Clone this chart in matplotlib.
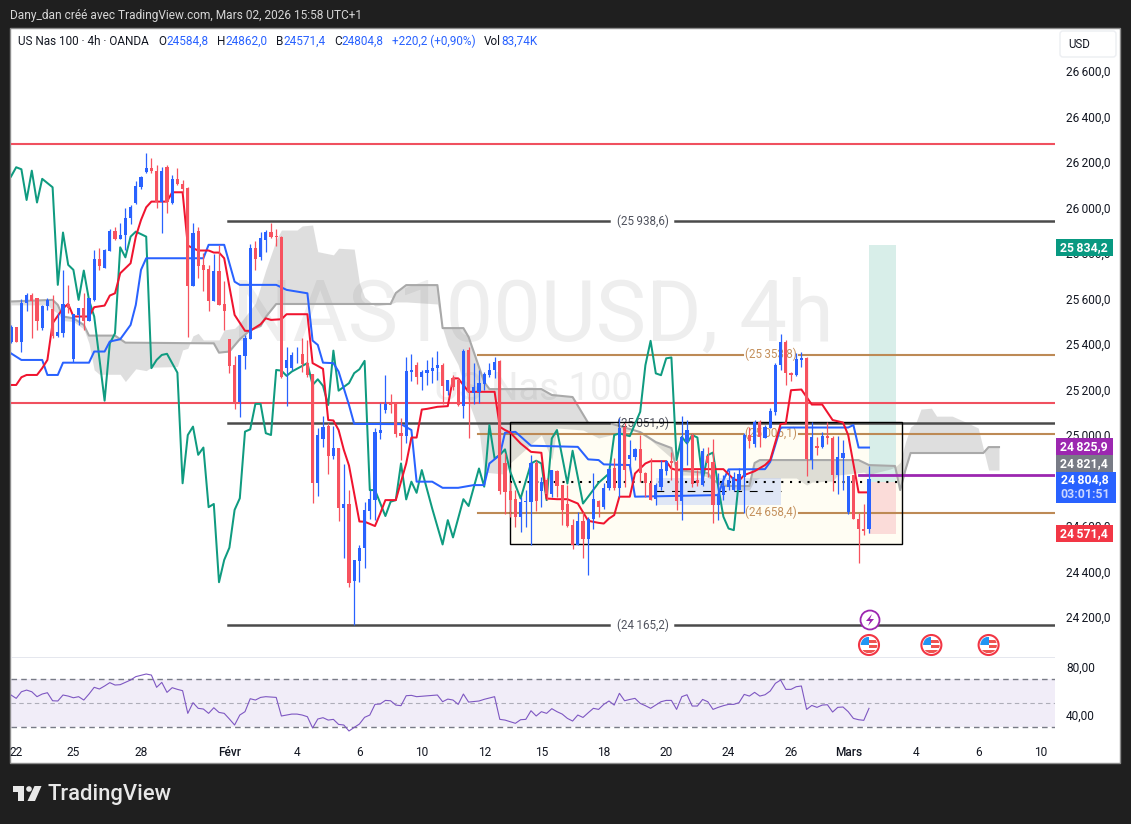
import numpy as np
import matplotlib
matplotlib.use("Agg")
import matplotlib.pyplot as plt
from matplotlib.patches import Circle, FancyBboxPatch, Polygon, Rectangle

plt.rcParams['font.family'] = ['Roboto', 'DejaVu Sans']

# candles, one per 4h bar
opens = [25411,25477,25411,25579,25616,25601,25469,25565,25553,25436,
         25447,25576,25333,25528,25557,25499,25594,25773,25733,25811,
         25897,25862,25877,25953,26022,26092,26155,26174,26162,26026,
         26177,26019,26124,26102,26086,25657,25896,25748,25730,25589,
         25721,25576,25421,25308,25146,25348,25421,25824,25781,25857,
         25893,25875,25869,25294,25294,25354,25357,25316,25269,24788,
         24981,25040,24910,24942,24681,24696,24360,24447,24502,24667,
         24714,25010,25110,25142,25139,25007,24995,25278,25307,25253,
         25274,25282,25296,25310,25195,25250,25241,25127,25373,25183,
         25190,25224,25262,25285,25325,24875,24754,24717,24641,24705,
         24707,24875,24755,24802,24743,24843,24780,24696,24604,24516,
         24623,24544,24629,24710,24682,24765,24856,24765,25036,24894,
         24904,24937,24834,24790,24717,24773,24843,24887,24882,24711,
         24970,25000,24802,24780,24907,24882,24692,24736,24773,24758,
         24758,24816,25000,24960,25058,24989,25029,25102,25307,25410,
         25274,25263,25331,25337,24890,24951,24948,24995,24989,24824,
         24901,24663,24824,24633,24585,24584.8]
highs = [25484,25477,25598,25623,25623,25601,25572,25601,25616,25538,
         25726,25660,25532,25557,25623,25604,25814,25821,25817,25904,
         25916,25931,25997,26011,26118,26140,26238,26216,26187,26180,
         26187,26143,26172,26121,26089,25934,25913,25799,25748,25796,
         25836,25676,25421,25348,25352,25440,25840,25853,25894,25901,
         25931,25904,25875,25389,25367,25389,25425,25418,25269,25030,
         25084,25052,25040,24942,24873,24759,24451,24516,24707,24758,
         25029,25139,25263,25180,25142,25077,25341,25354,25322,25285,
         25329,25344,25369,25315,25244,25263,25249,25376,25388,25315,
         25285,25278,25315,25344,25329,24919,24795,24758,24729,24758,
         24912,24890,24817,24809,24846,24846,24780,24780,24633,24663,
         24663,24641,24831,24714,24787,24853,24897,25073,25051,24978,
         24941,25000,24838,24897,24787,24890,24890,24926,24890,25083,
         25066,25007,24846,24941,24948,24981,24831,24824,24846,24838,
         24853,25007,25036,25065,25065,25044,25117,25315,25446,25417,
         25278,25359,25366,25341,25058,24992,25014,25058,24995,24995,
         24978,24819,24824,24658,24696,24862]
lows = [25403,25408,25367,25543,25425,25462,25462,25550,25425,25433,
        25433,25535,25323,25484,25462,25499,25587,25726,25733,25811,
        25857,25862,25814,25928,26016,26083,26151,26151,25997,25890,
        25978,26016,26099,26063,25433,25657,25689,25635,25546,25589,
        25572,25462,25272,25113,25081,25289,25421,25726,25770,25806,
        25865,25831,25250,25128,25286,25316,25279,25257,24700,24734,
        24949,24829,24895,24624,24461,24330,24165,24355,24414,24633,
        24626,24981,25095,25095,24992,24890,24963,25237,25224,25200,
        25219,25230,25241,25136,25175,25197,25127,25077,24988,25136,
        25139,25200,25253,25249,24743,24655,24641,24597,24575,24597,
        24516,24667,24685,24714,24729,24729,24604,24597,24497,24516,
        24458,24384,24589,24641,24677,24758,24758,24729,24773,24846,
        24890,24795,24729,24714,24692,24758,24824,24802,24670,24626,
        24868,24773,24777,24777,24816,24614,24626,24714,24758,24755,
        24758,24658,24941,24948,24948,24985,25029,25087,25288,25219,
        25238,25259,25300,24821,24850,24912,24945,24960,24755,24743,
        24758,24655,24630,24438,24560,24571.4]
closes = [25477,25411,25579,25616,25589,25499,25567,25594,25436,25455,
          25576,25557,25532,25557,25499,25604,25773,25743,25814,25897,
          25862,25877,25953,26004,26095,26136,26174,26162,26026,26159,
          26026,26124,26102,26080,25657,25887,25745,25726,25589,25721,
          25573,25543,25305,25143,25352,25425,25821,25774,25868,25893,
          25869,25872,25254,25330,25352,25357,25313,25264,24788,25000,
          25037,24910,24942,24681,24696,24349,24451,24502,24670,24717,
          25014,25022,25136,25133,25003,24995,25281,25285,25253,25278,
          25288,25296,25310,25215,25241,25212,25130,25370,25190,25212,
          25227,25268,25285,25322,24755,24751,24714,24641,24707,24710,
          24875,24711,24795,24740,24846,24778,24670,24600,24516,24623,
          24544,24633,24717,24685,24765,24849,24765,25029,24846,24912,
          24937,24831,24787,24714,24780,24850,24887,24875,24711,24992,
          25022,24784,24787,24929,24875,24692,24743,24775,24802,24816,
          24828,25000,24975,25058,24992,25036,25106,25307,25410,25271,
          25263,25332,25338,24893,24992,24945,24995,24985,24824,24904,
          24919,24819,24633,24586,24579,24804.8]

# ichimoku lines, bar index then price at the corners of each line
tenkan_x = [0,1,2,3,5,6,7,8,10,11,12,15,16,18,19,20,21,23,24,25,26,27,30,31,33,34,35,36,38,39,40,41,42,43,45,46,48,49,50,52,53,57,58,60,61,62,63,64,65,67,
            68,70,71,72,74,76,77,78,79,80,82,84,85,86,88,93,94,95,96,98,100,102,103,105,107,109,111,113,114,115,116,117,119,120,122,123,126,127,128,
            129,137,139,140,141,143,145,146,148,149,150,152,154,156,158,160,161,163,165]
tenkan_y = [25220,25220,25254,25264,25264,25294,25330,25491,25557,25576,25521,25521,25562,25569,25613,25623,25711,25755,25872,25945,26001,26026,26026,26067,26067,25833,25821,25811,25811,25802,25802,25777,25652,25528,25458,25458,25487,25513,25506,25509,25531,25531,25316,25291,25066,25064,25022,24935,24866,24620,
            24619,24600,24655,24714,24714,24875,24989,24989,25112,25115,25124,25127,25249,25249,25190,25190,25036,25022,25011,24963,24926,24922,24721,24718,24718,24699,24623,24614,24611,24633,24648,24729,24729,24831,24875,24885,24885,24853,24846,
            24850,24850,24805,24799,24824,24841,24868,24890,25048,25051,25197,25200,25134,25134,25066,25055,25000,24748,24748]
kijun_x = [0,2,6,7,9,10,15,16,18,19,21,23,24,25,26,37,38,41,43,44,51,53,57,58,59,60,62,63,65,66,
           75,77,78,81,83,86,89,91,92,94,95,97,100,109,111,113,114,119,120,
           136,137,138,145,146,148,161,162,163,165]
kijun_y = [25359,25330,25330,25264,25264,25318,25318,25367,25367,25411,25421,25484,25572,25726,25777,25777,25836,25836,25674,25660,25660,25638,25623,25415,25396,25318,25316,25279,25132,25049,
           25048,25022,24795,24795,24768,24768,24780,24780,24875,24912,25010,25014,24953,24948,24893,24890,24871,24868,24729,
           24736,24802,24849,24850,24882,25033,25033,25044,24945,24945]
chikou_x = [0,1,2,3,4,5,6,8,9,10,11,12,13,14,15,16,18,19,20,21,22,23,24,26,27,28,29,30,32,
            33,34,35,36,37,38,39,40,41,42,43,44,45,46,47,48,49,50,51,52,53,54,57,58,59,60,61,62,63,65,66,67,68,
            69,70,72,73,74,75,76,77,78,79,81,83,84,85,87,88,90,91,92,93,94,95,96,98,100,101,102,103,104,105,107,108,110,111,113,115,116,117,119,121,122,123,124,125,126,127,128,
            129,130,131,132,133,134,135,136,137,138,139,140]
chikou_y = [26136,26177,26168,26033,26162,26022,26126,26089,25660,25890,25748,25726,25594,25723,25594,25521,25151,25403,25447,25825,25781,25872,25894,25872,25294,25330,25352,25357,25274,
            24788,25000,25037,24913,24945,24683,24697,24353,24451,24505,24671,24722,25015,25025,25137,25137,25008,25000,25286,25283,25260,25279,25316,25220,25245,25216,25132,25371,25195,25228,25272,25289,25326,
            24758,24758,24644,24707,24714,24875,24717,24795,24746,24846,24677,24519,24626,24550,24718,24688,24853,24773,25044,24897,24912,24937,24839,24721,24875,24887,24875,24714,24985,25022,24787,24931,24699,24729,24790,24831,25000,25007,24995,25102,25307,25414,25271,25263,25337,25341,24890,
            24992,24963,25000,24989,24802,24912,24923,24773,24641,24589,24582,24805]

# cloud edges
span_a_x = [0,7,8,9,10,12,14,15,16,17,21,22,24,26,27,32,33,34,35,36,37,40,41,43,44,47,48,49,51,52,55,56,58,59,62,63,66,67,68,70,73,74,76,82,83,84,86,88,90,91,95,96,102,104,105,110,113,117,120,123,127,129,133,135,137,140,142,143,144,151,153,154,158,159,164,165,166,169,170,171,172,173,174,175,177,178,181,184,186,188,190]
span_a_y = [25572,25572,25550,25535,25503,25499,25466,25403,25286,25267,25267,25235,25291,25283,25298,25301,25374,25381,25436,25447,25418,25418,25462,25469,25491,25579,25652,25726,25857,25901,25901,25919,25923,25806,25792,25821,25817,25668,25606,25567,25576,25585,25585,25576,25470,25395,25308,25145,25022,24837,24828,24877,25000,24890,25031,25022,24987,25009,25022,24978,24899,24824,24824,24802,24793,24758,24758,24802,24811,24811,24780,24793,24798,24824,24837,24824,24833,24850,24859,24880,24969,25035,25053,25114,25118,25083,25083,25053,25031,24846,24846]
span_b_x = [0,8,9,10,12,14,15,20,22,39,40,42,44,46,48,49,51,73,74,76,82,83,87,88,91,92,102,104,108,111,115,121,124,127,128,132,134,135,137,142,143,144,163,165,170,171,172,173,187,188,190]
span_b_y = [25587,25594,25572,25521,25513,25484,25437,25437,25406,25403,25362,25367,25421,25461,25479,25519,25576,25576,25624,25659,25659,25470,25470,25431,25233,25202,25202,25176,25167,25053,25053,25013,24969,24943,24846,24837,24833,24802,24776,24776,24877,24890,24890,24868,24864,24758,24846,24921,24921,24947,24947]

# rsi
rsi_x = list(range(0,79)) + [82,83,84,85,86,87,88,90,91,93,94,95,97,98,99,100,101,102,103,104,105] + list(range(106,166))
rsi_y = [56.7,53.9,59.4,60.8,59.4,55.3,57.5,58.6,51.9,51.7,56.7,55.8,54.4,55.3,52.5,57.5,63.1,61.7,64.2,67.0,
         65.0,65.3,67.2,69.2,72.0,73.1,74.2,73.3,63.1,67.2,58.9,62.8,61.4,60.3,41.4,50.3,45.6,45.0,41.4,46.1,
         42.2,41.4,36.7,31.7,40.0,42.8,53.6,52.5,54.7,55.3,55.0,54.7,39.2,40.0,40.8,40.8,40.0,38.6,29.2,36.7,
         37.8,35.8,36.4,32.2,31.7,26.7,29.7,32.5,38.1,40.0,48.9,49.2,52.2,51.9,48.3,47.8,56.1,56.4,55.3,
         56.7,51.1,53.3,52.5,48.9,57.5,50.8,51.7,53.1,55.3,36.4,35.8,33.1,36.1,36.4,43.6,39.2,42.8,41.4,45.3,42.8,
         40.8,37.2,35.0,40.0,38.0,41.9,45.6,44.7,48.9,51.7,48.3,58.1,51.9,53.0,53.9,49.7,47.8,45.6,48.3,51.1,
         52.2,52.2,44.7,55.3,56.9,47.5,47.5,53.0,51.1,44.7,46.4,47.8,48.9,48.9,50.3,57.2,55.8,58.9,55.8,56.9,
         60.0,66.4,69.2,61.4,61.4,63.6,64.2,44.7,48.0,46.4,48.3,48.6,42.5,46.4,46.7,42.8,37.2,36.1,35.6,45.6]

# levels
red_levels = [26279, 25140]
black_levels = [25938.6, 25051.9, 24165.2]
brown_levels = [25353.8, 25006.1, 24658.4]
purple_level = 24825.9
# 24 800,0 sits fully under the last-price tags, so it is left out
price_ticks = [26600,26400,26200,26000,25800,25600,25400,25200,25000,24600,24400,24200]
rsi_ticks = [80, 40]
date_bars = [1,12,25,42,55,67,79,91,102,114,126,138,150,161,174,186,198]
date_labels = ['22','25','28','Févr','4','6','10','12','15','18','20','24','26','Mars','4','6','10']
event_bars = [165, 177, 188]

BG = '#1f1f1f'
UP = '#2962ff'
DOWN = '#f7525f'
W, H = 1131, 824


def num(v, dec=1):
    return f"{v:,.{dec}f}".replace(",", "\u2009").replace(".", ",")


def axrect(x0, y0, x1, y1):
    return [x0 / W, 1 - y1 / H, (x1 - x0) / W, (y1 - y0) / H]


fig = plt.figure(figsize=(W / 100, H / 100), dpi=100, facecolor=BG)

# white panel behind everything
back = fig.add_axes([0, 0, 1, 1], zorder=0)
back.set_xlim(0, W)
back.set_ylim(H, 0)
back.axis('off')
back.add_patch(Rectangle((10, 28), 1110, 735, fc='white', ec='#8c8c8c', lw=1))

ax = fig.add_axes(axrect(11, 28, 1055, 658), zorder=1)
rs = fig.add_axes(axrect(11, 659, 1055, 740), zorder=1)
for a in (ax, rs):
    a.patch.set_alpha(0)
    for s in a.spines.values():
        s.set_visible(False)
    a.set_xlim(0, 200.77)
    a.yaxis.tick_right()
    a.tick_params(length=0, labelsize=8.6, labelcolor='#131722')
    a.tick_params(axis='y', pad=8)
ax.set_ylim(24020, 26789)
rs.set_ylim(19.2, 86.7)

ax.set_xticks([])
ax.set_yticks(price_ticks, [num(v) for v in price_ticks])
rs.set_yticks(rsi_ticks, [num(v, 2) for v in rsi_ticks])
rs.set_xticks(date_bars, date_labels)
rs.tick_params(axis='x', pad=4)
for lab in rs.get_xticklabels():
    if lab.get_text() in ('Févr', 'Mars'):
        lab.set_fontweight('medium')

# separator between panes
ax.axhline(24020, color='#e0e3eb', lw=1.2, zorder=1)

# watermark
ax.text(0.5, 25520, 'NAS100USD, 4h', transform=ax.get_yaxis_transform(), ha='center', va='center',
        fontsize=61, color='#eeeeee', zorder=0.5)
ax.text(0.5, 25200, 'US Nas 100', transform=ax.get_yaxis_transform(), ha='center', va='center',
        fontsize=27.5, color='#eeeeee', zorder=0.5)

# range box and position tool
ax.add_patch(Rectangle((96, 24521), 75.3, 537, fc='#fffdf3', ec='none', zorder=1))
ax.add_patch(Rectangle((124, 24692), 24, 119, fc='#dfe6f5', ec='none', zorder=1.1))
ax.add_patch(Rectangle((165, 24795), 5.2, 1039.2, fc='#d8eee9', ec='none', zorder=1.2))
ax.add_patch(Rectangle((165, 24566), 5.2, 229, fc='#fbdcd9', ec='none', zorder=1.2))

# cloud
grid = np.arange(0, 191)
a_line = np.interp(grid, span_a_x, span_a_y)
b_line = np.interp(grid, span_b_x, span_b_y)
ax.fill_between(grid, a_line, b_line, color='#7f7f7f', alpha=0.25, lw=0, zorder=1.5)
ax.plot(span_b_x, span_b_y, color='#a9a9a9', lw=1.5, zorder=1.6)

ax.add_patch(Rectangle((96, 24521), 75.3, 537, fc='none', ec='black', lw=1.0, zorder=2.5))
ax.plot([96, 171.3], [24795, 24795], color='black', lw=1.5, ls=(0, (1, 3.2)), zorder=2.6)
ax.plot([124, 148], [24752, 24752], color='black', lw=0.8, ls=(0, (7, 7)), zorder=2.6)

# horizontal levels
for lv in red_levels:
    ax.axhline(lv, color='#f0505f', lw=1.5, zorder=2)
for lv in black_levels:
    ax.plot([41.7, 115], [lv, lv], color='#4a4a4a', lw=1.8, zorder=2)
    ax.plot([127.6, 200.77], [lv, lv], color='#4a4a4a', lw=1.8, zorder=2)
    ax.text(121.5, lv, f"({num(lv)})", ha='center', va='center', fontsize=8.4, color='#50535e', zorder=2)
for lv in brown_levels:
    ax.plot([89.8, 140.8], [lv, lv], color='#bd8a55', lw=1.5, zorder=2)
    ax.plot([151.5, 200.77], [lv, lv], color='#bd8a55', lw=1.5, zorder=2)
    ax.text(146.2, lv, f"({num(lv)})", ha='center', va='center', fontsize=8.4, color='#c4905c', zorder=2)
ax.plot([163, 200.77], [purple_level, purple_level], color='#9c27b0', lw=2, zorder=2)

# ichimoku lines
ax.plot(chikou_x, chikou_y, color='#0f9b80', lw=1.45, zorder=3)
ax.plot(kijun_x, kijun_y, color='#2962ff', lw=1.45, zorder=3)
ax.plot(tenkan_x, tenkan_y, color='#f0142f', lw=1.45, zorder=3)

# candles
x = np.arange(len(opens))
o = np.array(opens)
c = np.array(closes)
cols = [UP if cc >= oo else DOWN for oo, cc in zip(o, c)]
ax.vlines(x, lows, highs, colors=cols, lw=0.9, zorder=4)
ax.bar(x, np.abs(c - o), bottom=np.minimum(o, c), width=0.58, color=cols, lw=0, zorder=4.1)

# rsi pane
rs.axhspan(30, 70, color='#7e57c2', alpha=0.1, lw=0, zorder=1)
rs.axhline(70, color='#787b86', lw=1, ls=(0, (4, 3)), zorder=2)
rs.axhline(30, color='#787b86', lw=1, ls=(0, (4, 3)), zorder=2)
rs.axhline(50, color='#787b86', lw=0.8, ls=(0, (4, 3)), alpha=0.55, zorder=2)
rs.plot(rsi_x, rsi_y, color='#7e57c2', lw=0.8, zorder=3)

# overlay: texts, labels and icons in screen pixels
top = fig.add_axes([0, 0, 1, 1], zorder=5)
top.patch.set_alpha(0)
top.set_xlim(0, W)
top.set_ylim(H, 0)
top.axis('off')

top.text(10, 15, "Dany_dan créé avec TradingView.com, Mars 02, 2026 15:58 UTC+1", color='#d6d6d6',
         fontsize=8.6, va='center')
legend = [(18, "US Nas 100 · 4h · OANDA", '#131722'), (158, "O", '#131722'), (166, num(24584.8).replace("\u2009", ""), UP),
          (217, "H", '#131722'), (225, num(24862).replace("\u2009", ""), UP), (276, "B", '#131722'),
          (283, num(24571.4).replace("\u2009", ""), UP), (334, "C", '#131722'), (341, num(24804.8).replace("\u2009", ""), UP),
          (392, "+220,2 (+0,90%)", UP), (484, "Vol", '#131722'), (501, "83,74K", UP)]
for lx, txt, col in legend:
    top.text(lx, 41.5, txt, color=col, fontsize=8.5, va='center')

top.add_patch(FancyBboxPatch((1062, 33), 52, 22, boxstyle="round,pad=2,rounding_size=3", fc='white', ec='#eceef2', lw=1))
top.text(1068, 44.5, "USD", fontsize=8.3, color='#131722', va='center')

labels = [(239, 256, 25834.2, '#089981', 1112.5), (438, 455, 24825.9, '#9c27b0', 1112.5),
          (455, 472, 24821.4, '#787b86', 1112.5), (525, 542, 24571.4, '#f23645', 1112.5)]
for y0, y1, val, col, xr in labels:
    top.add_patch(Rectangle((1056, y0), xr - 1056, y1 - y0, fc=col, ec='none'))
    top.text(1084, (y0 + y1) / 2, num(val), color='white', fontsize=8.8, fontweight='bold', ha='center', va='center')
top.add_patch(Rectangle((1056, 472), 60, 31, fc='#2962ff', ec='none'))
top.text(1085, 480, num(24804.8), color='white', fontsize=8.8, fontweight='bold', ha='center', va='center')
top.text(1085, 494, "03:01:51", color='#c9d6ff', fontsize=8.8, fontweight='bold', ha='center', va='center')

# purple event marker
top.add_patch(Circle((870, 620), 9.5, fc='white', ec='#9c27b0', lw=1.3))
top.add_patch(Polygon([(872, 614), (866, 621), (870, 621), (868, 626), (874, 619), (870, 619)], fc='#9c27b0', ec='none'))

# calendar flags, placed from the bar index
for bar in event_bars:
    cx = ax.transData.transform((bar, 25000))[0]
    ring = Circle((cx, 645), 10, fc='white', ec='#f23645', lw=1.5)
    top.add_patch(ring)
    clip = Circle((cx, 645), 8.3, transform=top.transData)
    parts = [Rectangle((cx - 9, 637), 9, 8, fc='#2196f3', ec='none'),
             Rectangle((cx, 640), 9, 2.5, fc='#ef5350', ec='none'),
             Rectangle((cx, 645), 9, 2.5, fc='#ef5350', ec='none'),
             Rectangle((cx - 9, 649.5), 18, 3, fc='#ef5350', ec='none')]
    for p in parts:
        top.add_patch(p)
        p.set_clip_path(clip)

# logo
top.add_patch(Polygon([(12.5, 786), (24, 786), (24, 801), (18, 801), (18, 791.5), (12.5, 791.5)], fc='#e8e8e8', ec='none'))
top.add_patch(Circle((29, 789), 2.8, fc='#e8e8e8', ec='none'))
top.add_patch(Polygon([(34.5, 786), (41.5, 786), (35, 801), (27.5, 801)], fc='#e8e8e8', ec='none'))
top.text(48, 794.5, "TradingView", color='#e8e8e8', fontsize=15.8, fontweight='medium', va='center')

fig.savefig('out.png', dpi=100, facecolor=BG)
